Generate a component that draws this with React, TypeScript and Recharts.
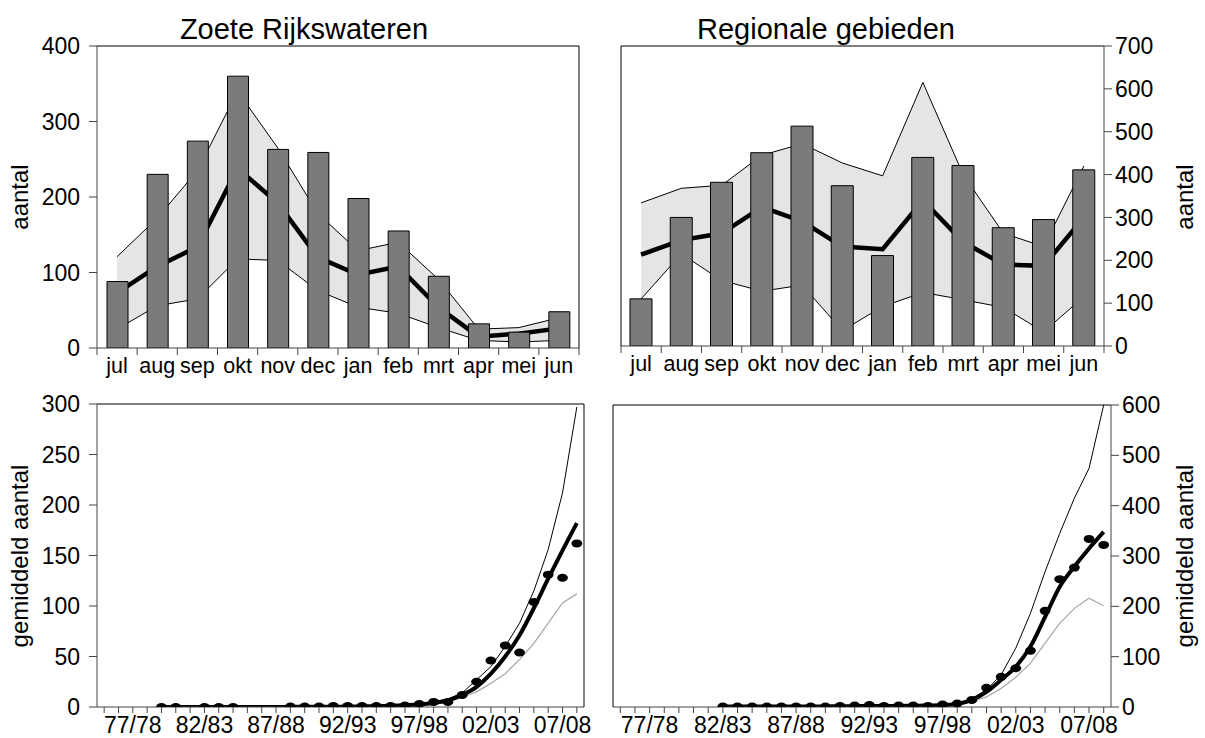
import React from 'react';
import { ComposedChart, Bar, Line, Area, XAxis, YAxis } from 'recharts';

const FONT = '"Liberation Sans", Arial, Helvetica, sans-serif';

// ---------- top charts: months ----------
const months = ['jul', 'aug', 'sep', 'okt', 'nov', 'dec', 'jan', 'feb', 'mrt', 'apr', 'mei', 'jun'];

// Zoete Rijkswateren (monthly)
const rwBars = [88, 230, 274, 360, 263, 259, 198, 155, 95, 32, 21, 48];
const rwMean = [73, 108, 134, 238, 192, 120, 97, 108, 54, 15, 19, 26];
const rwUpper = [121, 172, 235, 340, 265, 178, 129, 140, 91, 25, 27, 40];
const rwLower = [25, 56, 65, 118, 116, 76, 54, 46, 27, 10, 8, 10];

// Regionale gebieden (monthly)
const rgBars = [110, 300, 382, 451, 513, 374, 211, 440, 421, 276, 295, 411];
const rgMean = [213, 247, 263, 324, 291, 232, 226, 340, 243, 190, 187, 300];
const rgUpper = [334, 368, 375, 445, 472, 427, 397, 615, 400, 263, 232, 420];
const rgLower = [110, 215, 153, 128, 142, 36, 92, 125, 108, 90, 33, 115];

// ---------- bottom charts: seasons ----------
const seasons = [
  '75/76', '76/77', '77/78', '78/79', '79/80', '80/81', '81/82', '82/83', '83/84', '84/85',
  '85/86', '86/87', '87/88', '88/89', '89/90', '90/91', '91/92', '92/93', '93/94', '94/95',
  '95/96', '96/97', '97/98', '98/99', '99/00', '00/01', '01/02', '02/03', '03/04', '04/05',
  '05/06', '06/07', '07/08', '08/09',
];
const seasonLabels = ['77/78', '82/83', '87/88', '92/93', '97/98', '02/03', '07/08'];

const N = null;
// Zoete Rijkswateren (yearly)
const rwObs = [N, N, N, N, 0, 0, N, 0, 0, 0, N, N, N, 0.5, 0.5, 0.5, 1, 1, 1, 1, 1, 1.5, 3, 5, 5, 12, 25, 46, 61, 54, 104, 131, 128, 162];
const rwTrend = [N, N, N, N, 0, 0, 0, 0, 0, 0, 0, 0.1, 0.1, 0.1, 0.2, 0.2, 0.3, 0.4, 0.6, 0.8, 1.2, 1.8, 2.5, 4, 6.5, 12, 20, 33, 50, 71, 98, 127, 155, 182];
const rwHigh = [N, N, N, N, 0, 0, 0, 0, 0, 0, 0, 0.1, 0.1, 0.2, 0.2, 0.3, 0.4, 0.5, 0.8, 1.1, 1.6, 2.5, 3.5, 5, 8, 14, 27, 40, 60, 83, 115, 156, 212, 297];
const rwLow = [N, N, N, N, 0, 0, 0, 0, 0, 0, 0, 0, 0, 0.1, 0.1, 0.1, 0.2, 0.3, 0.4, 0.6, 0.9, 1.5, 2.5, 3.5, 5, 9.6, 15, 23.5, 33, 47, 63, 83, 103, 112];

// Regionale gebieden (yearly)
const rgObs = [N, N, N, N, N, N, N, 1, 1, 1, 1, 1, 1, 1, 1, 2, 3, 4, 2, 3, 3, 2, 5, 7, 14, 38, 60, 77, 112, 191, 254, 277, 334, 322];
const rgTrend = [N, N, N, N, N, N, N, 1, 1, 1, 1, 1, 1, 1, 1, 1.5, 1.5, 2, 2, 2, 2.5, 3, 4, 6, 14, 30, 54, 80, 120, 179, 239, 279, 315, 348];
const rgHigh = [N, N, N, N, N, N, N, 1, 1, 1, 1, 1, 1, 1, 1.5, 2, 2, 2.5, 2.5, 3, 3, 3, 4, 6, 17, 34, 64, 117, 186, 269, 345, 415, 474, 600];
const rgLow = [N, N, N, N, N, N, N, 0.5, 0.5, 0.5, 0.5, 0.5, 0.5, 0.5, 0.5, 1, 1, 1, 1, 1, 1.5, 2, 3, 4, 10.5, 20, 37, 59, 87, 127, 166, 196, 216, 201];

const rwMonthData = months.map((m, i) => ({ m, bar: rwBars[i], mean: rwMean[i], hi: rwUpper[i], lo: rwLower[i], band: [rwLower[i], rwUpper[i]] }));
const rgMonthData = months.map((m, i) => ({ m, bar: rgBars[i], mean: rgMean[i], hi: rgUpper[i], lo: rgLower[i], band: [rgLower[i], rgUpper[i]] }));
const rwSeasonData = seasons.map((s, i) => ({ s, obs: rwObs[i], trend: rwTrend[i], hi: rwHigh[i], lo: rwLow[i] }));
const rgSeasonData = seasons.map((s, i) => ({ s, obs: rgObs[i], trend: rgTrend[i], hi: rgHigh[i], lo: rgLow[i] }));

const BAR_FILL = '#7a7b7d';
const BAND_FILL = '#e4e5e5';
const AXIS = '#444';
const numTick = { fontSize: 23, fill: '#000', fontFamily: FONT };

const MonthTick = (props: any) => {
  const { x, y, payload, half } = props;
  const isLast = payload.value === months[months.length - 1];
  return (
    <g>
      <line x1={x - half} x2={x - half} y1={y} y2={y + 7} stroke={AXIS} />
      {isLast && <line x1={x + half} x2={x + half} y1={y} y2={y + 7} stroke={AXIS} />}
      <text x={x} y={y + 25} textAnchor="middle" fontSize={21.5} fontFamily={FONT} fill="#000">
        {payload.value}
      </text>
    </g>
  );
};

const Ell = (p: any) => {
  const key = `d-${p.index}`;
  if (p.value == null || p.cy == null || Number.isNaN(p.cy)) return <g key={key} />;
  return <ellipse key={key} cx={p.cx} cy={p.cy} rx={5.4} ry={4} fill="#000" />;
};

const seasonFmt = (v: string) => (seasonLabels.includes(v) ? v : '');

// Box edges are drawn by thin (1px) axes on the sides without ticks.
function MonthChart({ data, width, height, margin, yMax, yTicks, side, band, barSize, plotH }: any) {
  const left = side === 'left';
  return (
    <ComposedChart width={width} height={height} data={data} margin={margin}>
      <XAxis xAxisId="b" dataKey="m" height={height - margin.top - 1 - margin.bottom - plotH} interval={0}
        tickLine={false} tickSize={0} tickMargin={0} axisLine={{ stroke: AXIS }}
        tick={(p: any) => <MonthTick {...p} half={band / 2} />} />
      <XAxis xAxisId="t" dataKey="m" orientation="top" height={1} tick={false} tickLine={false} axisLine={{ stroke: '#000' }} />
      {left ? (
        <YAxis yAxisId="l" orientation="left" width={97} domain={[0, yMax]} ticks={yTicks} allowDataOverflow
          tick={numTick} tickLine={{ stroke: AXIS }} tickSize={8} tickMargin={9} axisLine={{ stroke: AXIS }} />
      ) : (
        <YAxis yAxisId="l" orientation="left" width={1} domain={[0, yMax]} allowDataOverflow
          tick={false} tickLine={false} axisLine={{ stroke: '#000' }} />
      )}
      {left ? (
        <YAxis yAxisId="r" orientation="right" width={1} domain={[0, yMax]} allowDataOverflow
          tick={false} tickLine={false} axisLine={{ stroke: '#000' }} />
      ) : (
        <YAxis yAxisId="r" orientation="right" width={101} domain={[0, yMax]} ticks={yTicks} allowDataOverflow
          tick={numTick} tickLine={{ stroke: AXIS }} tickSize={8} tickMargin={3} axisLine={{ stroke: AXIS }} />
      )}
      <Area xAxisId="b" yAxisId="l" type="linear" dataKey="band" fill={BAND_FILL} fillOpacity={1} stroke="none" isAnimationActive={false} zIndex={100} />
      <Line xAxisId="b" yAxisId="l" type="linear" dataKey="hi" stroke="#000" strokeWidth={1} dot={false} activeDot={false} isAnimationActive={false} zIndex={250} />
      <Line xAxisId="b" yAxisId="l" type="linear" dataKey="lo" stroke="#000" strokeWidth={1} dot={false} activeDot={false} isAnimationActive={false} zIndex={250} />
      <Line xAxisId="b" yAxisId="l" type="linear" dataKey="mean" stroke="#000" strokeWidth={4.5} dot={false} activeDot={false} isAnimationActive={false} zIndex={260} />
      <Bar xAxisId="b" yAxisId="l" dataKey="bar" barSize={barSize} fill={BAR_FILL} stroke="#000" strokeWidth={1} isAnimationActive={false} zIndex={300} />
      <Line xAxisId="t" yAxisId="r" type="linear" dataKey="bar" stroke="none" strokeWidth={0} dot={false} activeDot={false} isAnimationActive={false} />
    </ComposedChart>
  );
}

function SeasonChart({ data, width, height, margin, yMax, yTicks, side }: any) {
  const left = side === 'left';
  return (
    <ComposedChart width={width} height={height} data={data} margin={margin}>
      <XAxis xAxisId="b" dataKey="s" scale="band" height={31} interval={0} tickSize={6} tickMargin={4}
        tickFormatter={seasonFmt} tick={numTick} tickLine={{ stroke: AXIS }} axisLine={{ stroke: AXIS }} />
      <XAxis xAxisId="t" dataKey="s" scale="band" orientation="top" height={1} tick={false} tickLine={false} axisLine={{ stroke: '#000' }} />
      {left ? (
        <YAxis yAxisId="l" orientation="left" width={97} domain={[0, yMax]} ticks={yTicks} allowDataOverflow
          tick={numTick} tickLine={{ stroke: AXIS }} tickSize={8} tickMargin={9} axisLine={{ stroke: AXIS }} />
      ) : (
        <YAxis yAxisId="l" orientation="left" width={1} domain={[0, yMax]} allowDataOverflow
          tick={false} tickLine={false} axisLine={{ stroke: '#000' }} />
      )}
      {left ? (
        <YAxis yAxisId="r" orientation="right" width={1} domain={[0, yMax]} allowDataOverflow
          tick={false} tickLine={false} axisLine={{ stroke: '#000' }} />
      ) : (
        <YAxis yAxisId="r" orientation="right" width={94} domain={[0, yMax]} ticks={yTicks} allowDataOverflow
          tick={numTick} tickLine={{ stroke: AXIS }} tickSize={8} tickMargin={3} axisLine={{ stroke: AXIS }} />
      )}
      <Line xAxisId="b" yAxisId="l" type="linear" dataKey="hi" stroke="#000" strokeWidth={1} dot={false} activeDot={false} isAnimationActive={false} />
      <Line xAxisId="b" yAxisId="l" type="linear" dataKey="lo" stroke="#a6a6a6" strokeWidth={1.2} dot={false} activeDot={false} isAnimationActive={false} />
      <Line xAxisId="b" yAxisId="l" type="monotone" dataKey="trend" stroke="#000" strokeWidth={4} dot={false} activeDot={false} isAnimationActive={false} />
      <Line xAxisId="b" yAxisId="l" type="linear" dataKey="obs" stroke="none" dot={Ell} activeDot={false} isAnimationActive={false} />
      <Line xAxisId="t" yAxisId="r" type="linear" dataKey="trend" stroke="none" strokeWidth={0} dot={false} activeDot={false} isAnimationActive={false} />
    </ComposedChart>
  );
}

const abs = (left: number, top: number): React.CSSProperties => ({ position: 'absolute', left, top });

function VText({ x, y, children }: any) {
  return (
    <div style={{ position: 'absolute', left: x, top: y, transform: 'translate(-50%, -50%) rotate(-90deg)', whiteSpace: 'nowrap', fontSize: 24, lineHeight: 1, fontFamily: FONT, color: '#000' }}>
      {children}
    </div>
  );
}

function Title({ x, children }: any) {
  return (
    <div style={{ position: 'absolute', left: x, top: 15, transform: 'translateX(-50%)', whiteSpace: 'nowrap', fontSize: 29, lineHeight: 1, fontFamily: FONT, color: '#000' }}>
      {children}
    </div>
  );
}

export default function App() {
  return (
    <div style={{ position: 'absolute', left: 0, top: 0, width: 1205, height: 738, background: '#fff', fontFamily: FONT }}>
      <div style={abs(0, 0)}>
        <MonthChart data={rwMonthData} width={600} height={390} margin={{ top: 45, right: 20, bottom: 0, left: 0 }}
          yMax={400} yTicks={[0, 100, 200, 300, 400]} side="left" band={(579 - 97) / 12} barSize={21} plotH={302} />
      </div>
      <div style={abs(600, 0)}>
        <MonthChart data={rgMonthData} width={605} height={390} margin={{ top: 45, right: 0, bottom: 0, left: 20 }}
          yMax={700} yTicks={[0, 100, 200, 300, 400, 500, 600, 700]} side="right" band={(1104 - 621) / 12} barSize={22} plotH={300} />
      </div>
      <div style={abs(0, 390)}>
        <SeasonChart data={rwSeasonData} width={600} height={348} margin={{ top: 13, right: 15, bottom: 0, left: 0 }}
          yMax={300} yTicks={[0, 50, 100, 150, 200, 250, 300]} side="left" />
      </div>
      <div style={abs(600, 390)}>
        <SeasonChart data={rgSeasonData} width={605} height={348} margin={{ top: 14, right: 0, bottom: 0, left: 12 }}
          yMax={600} yTicks={[0, 100, 200, 300, 400, 500, 600]} side="right" />
      </div>
      <Title x={304}>Zoete Rijkswateren</Title>
      <Title x={826}>Regionale gebieden</Title>
      <VText x={20} y={197}>aantal</VText>
      <VText x={20} y={556}>gemiddeld aantal</VText>
      <VText x={1185} y={197}>aantal</VText>
      <VText x={1185} y={556}>gemiddeld aantal</VText>
    </div>
  );
}
